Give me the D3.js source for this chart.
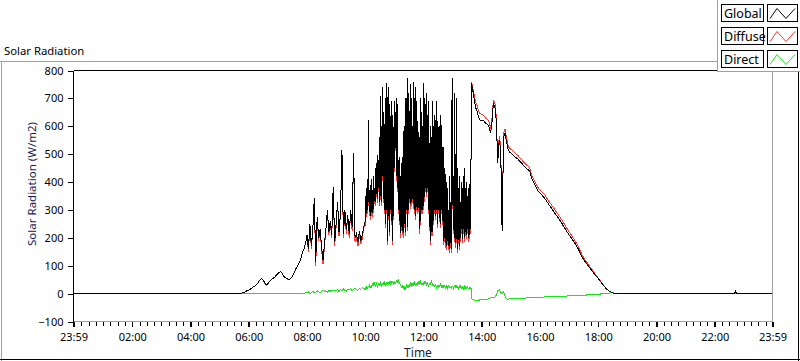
<!DOCTYPE html>
<html><head><meta charset="utf-8">
<script src="https://cdn.jsdelivr.net/npm/d3@7"></script>
<style>
body{margin:0;background:#fff}
svg{display:block}
text{font-family:"Noto Sans",sans-serif}
</style>
</head><body>
<svg id="chart" width="800" height="361"></svg>
<script>
// ---------- DATA ----------
const chartTitle = "Solar Radiation";
const yTitle = "Solar Radiation (W/m2)";
const xTitle = "Time";
const seriesNames = ["Global", "Diffuse", "Direct"];
const seriesColors = ["#000000", "#ff3434", "#19e619"];
const yTicks = [-100, 0, 100, 200, 300, 400, 500, 600, 700, 800];
const xTickLabels = ["23:59","02:00","04:00","06:00","08:00","10:00","12:00","14:00","16:00","18:00","20:00","22:00","23:59"];

// block A: every 3 min, 05:42 - 09:57
const blockAStart = "05:42", blockAStep = 3;
const globalA = [
  0,1,3,5,8,11,
  12,16,20,24,27,30,36,44,50,54,48,38,32,35,42,48,52,56,60,66,
  72,76,79,72,62,58,55,52,52,55,62,72,85,95,105,115,130,148,160,180,
  210,160,250,170,230,342,115,275,200,230,170,120,180,230,300,220,260,210,383,185,
  250,330,220,290,515,215,300,230,280,215,300,240,504,200,215,185,225,190,210,240
];
const diffuseA = [
  0,1,3,5,8,11,
  12,16,20,24,27,30,36,44,50,54,46,35,30,34,42,48,52,56,60,66,
  72,76,79,72,62,57,54,50,51,55,62,72,85,95,105,115,130,148,160,180,
  210,150,250,160,230,342,100,275,190,230,160,105,170,230,300,210,260,200,383,170,
  240,330,205,290,515,200,300,215,280,200,300,225,504,185,200,170,210,178,198,240
];
const directA = [
  0,0,0,0,0,0,
  0,0,0,0,0,0,0,0,0,0,0,0,0,0,0,0,0,0,0,0,
  0,0,0,0,0,0,0,0,0,0,0,0,0,0,0,0,0,2,0,3,
  2,6,0,4,8,3,5,10,6,4,8,12,7,10,5,11,8,13,9,12,
  10,14,8,15,11,17,12,9,16,13,18,11,15,20,14,12,18,15,22,17
];

// block B: every minute, 10:00 - 13:39
const blockBStart = "10:00", blockBStep = 1;
const globalB = [
  260,350,290,380,300,410,330,623,300,360,280,390,320,410,290,370,300,420,330,380,
  350,450,330,470,360,497,340,480,380,560,330,707,350,600,330,742,420,650,340,600,
  300,700,250,755,300,600,190,740,280,680,220,650,300,600,260,690,190,640,280,560,
  690,450,650,560,700,420,680,380,480,300,490,260,420,216,470,240,490,260,216,450,
  600,250,520,220,700,300,680,240,773,300,720,340,650,320,750,330,700,340,600,320,
  760,300,700,280,740,310,690,300,620,320,580,230,560,260,700,300,650,380,600,300,
  755,360,700,345,680,380,720,360,640,380,690,300,540,240,600,190,560,220,690,220,
  600,260,640,300,560,280,690,300,620,250,560,300,600,270,520,250,640,300,580,260,
  480,190,527,200,450,180,430,170,400,190,380,170,300,160,420,180,330,160,420,773,
  600,250,420,200,720,250,500,180,700,220,450,160,380,210,420,170,330,200,400,230,
  380,195,420,230,450,200,380,220,400,210,350,230,380,200,300,210,420,230,500,755
];
const diffuseB = [
  245,350,275,380,285,410,315,623,285,360,265,390,305,410,275,370,285,420,315,380,
  335,450,315,470,345,497,325,480,365,560,315,707,335,600,315,742,405,650,325,600,
  285,700,235,755,285,600,175,740,265,680,205,650,285,600,245,690,175,640,265,560,
  690,435,650,545,700,405,680,365,480,285,490,245,420,200,470,225,490,260,200,450,
  600,235,520,205,700,285,680,225,773,285,720,325,650,305,750,315,700,325,600,305,
  760,285,700,265,740,295,690,285,620,305,580,215,560,245,700,285,650,365,600,285,
  755,345,700,330,680,365,720,345,640,365,690,285,540,225,600,175,560,205,690,205,
  600,245,640,285,560,265,690,285,620,235,560,285,600,255,520,235,640,285,580,245,
  480,175,527,185,450,165,430,155,400,175,380,155,300,145,420,165,330,145,420,773,
  600,235,420,185,720,235,500,165,700,205,450,145,380,195,420,155,330,185,400,215,
  380,180,420,215,450,185,380,205,400,195,350,215,380,185,300,195,420,215,500,760
];
const directB = [
  16,20,18,24,22,19,27,25,22,30,26,24,28,25,30,33,28,35,41,36,
  33,28,31,38,34,24,29,35,31,30,36,40,33,27,31,36,34,32,38,44,
  40,30,35,38,34,41,37,33,39,36,42,38,34,44,40,36,41,38,35,40,
  38,42,34,40,46,43,40,45,49,44,36,40,33,30,26,22,28,24,18,22,
  26,20,14,18,24,28,32,26,20,24,30,27,33,36,30,28,34,31,36,32,
  38,34,40,36,33,38,35,30,37,42,38,34,40,36,42,38,33,30,36,34,
  38,33,40,35,42,37,30,35,38,32,26,30,36,33,32,38,45,40,36,28,
  34,30,24,28,32,30,26,20,24,28,22,27,30,26,28,33,30,25,28,22,
  30,26,22,28,25,20,24,27,22,18,24,28,26,22,25,20,22,26,20,24,
  26,22,18,24,28,22,26,30,25,20,24,22,18,22,26,21,25,20,18,22,
  24,20,17,22,26,20,18,24,21,19,22,25,20,18,22,19,16,20,18,-19
];

// block C: every 3 min, 13:42 - 18:42
const blockCStart = "13:42", blockCStep = 3;
const globalC = [
  725,690,665,650,630,622,
  620,622,615,610,606,598,575,610,683,670,620,470,551,520,224,560,577,545,520,508,
  505,500,495,490,486,482,475,470,464,458,453,448,444,438,418,405,395,385,374,366,
  360,355,349,344,336,328,320,313,305,298,290,283,275,268,260,252,243,235,226,218,
  210,203,196,188,180,172,163,152,141,131,122,115,108,101,94,87,80,73,66,60,
  54,47,40,33,27,21,15,11,8,5,3,1,0,0,0
];
const diffuseC = [
  735,705,685,672,652,645,
  642,640,634,628,624,616,592,627,692,685,636,470,565,535,224,575,590,560,533,521,
  518,513,508,503,498,494,487,482,476,470,465,460,456,450,430,417,407,397,386,378,
  372,367,361,356,348,340,332,325,317,310,302,295,287,280,272,264,255,247,238,230,
  221,214,206,198,190,181,172,160,149,138,129,121,114,106,99,91,84,76,69,62,
  56,49,41,34,28,21,15,11,8,5,3,1,0,0,0
];
const directC = [
  -22,-24,-25,-23,-24,-22,
  -22,-23,-22,-21,-20,-17,-15,-16,-14,-12,-5,10,14,4,0,6,-10,-19,-20,-19,
  -18,-18,-17,-18,-17,-17,-16,-17,-16,-16,-16,-15,-15,-15,-15,-14,-14,-14,-14,-13,
  -13,-13,-13,-12,-12,-12,-12,-11,-11,-11,-11,-10,-10,-10,-10,-9,-9,-9,-9,-8,
  -8,-8,-8,-7,-7,-7,-6,-6,-6,-5,-5,-5,-5,-4,-4,-4,-4,-3,-3,-3,
  -3,-2,-1,0,0,1,1,2,2,3,3,2,1,0,0
];

// night-time points before and after the sampled blocks
const leadTimes = ["00:00"];
const globalLead = [0], diffuseLead = [0], directLead = [0];
const tailTimes = ["18:45","22:41","22:43","22:45","23:59"];
const globalTail = [0,0,10,0,0];
const diffuseTail = [0,0,0,0,0];
const directTail = [0,0,0,0,0];

// ---------- BUILD ----------
function toDate(hhmm, dayOffset) {
  const [h, m] = hhmm.split(":").map(Number);
  return new Date(2020, 0, 1 + (dayOffset || 0), h, m);
}
const startD = toDate("23:59", -1), endD = toDate("23:59", 0);
function blockPts(start, step, vals) {
  const t0 = toDate(start).getTime();
  return vals.map((v, i) => ({t: new Date(t0 + i * step * 60000), v}));
}
function buildSeries(lead, a, b, c, tail) {
  return [
    ...leadTimes.map((t, i) => ({t: toDate(t), v: lead[i]})),
    ...blockPts(blockAStart, blockAStep, a),
    ...blockPts(blockBStart, blockBStep, b),
    ...blockPts(blockCStart, blockCStep, c),
    ...tailTimes.map((t, i) => ({t: toDate(t), v: tail[i]}))
  ];
}
const series = [
  buildSeries(globalLead, globalA, globalB, globalC, globalTail),
  buildSeries(diffuseLead, diffuseA, diffuseB, diffuseC, diffuseTail),
  buildSeries(directLead, directA, directB, directC, directTail)
];

const svg = d3.select("#chart");
const L = 73.5, R = 772.5, T = 70.5, B = 321.5;
const x = d3.scaleTime().domain([startD, endD]).range([L, R]);
const y = d3.scaleLinear().domain([-100, 800]).range([B, T]);

// outer frame
svg.append("line").attr("x1",0).attr("x2",800).attr("y1",61.5).attr("y2",61.5).attr("stroke","#a0a0a0");
svg.append("line").attr("x1",1.5).attr("x2",1.5).attr("y1",61.5).attr("y2",361).attr("stroke","#a0a0a0");
svg.append("line").attr("x1",0).attr("x2",800).attr("y1",359.5).attr("y2",359.5).attr("stroke","#000");
svg.append("line").attr("x1",798.5).attr("x2",798.5).attr("y1",61.5).attr("y2",361).attr("stroke","#000");

// title
svg.append("text").attr("x",4).attr("y",55).attr("font-size","11.3px").attr("fill","#000").text(chartTitle);

// plot area
svg.append("rect").attr("x",L).attr("y",T).attr("width",R-L).attr("height",B-T).attr("fill","#fff");

// data lines (direct, diffuse, global so global is on top)
const line = d3.line().x(d => x(d.t)).y(d => y(d.v));
const g = svg.append("g");
[2,1,0].forEach(k => {
  g.append("path").datum(series[k]).attr("d", line)
   .attr("fill","none").attr("stroke",seriesColors[k]).attr("stroke-width",1)
   .attr("shape-rendering","crispEdges");
});

// plot borders
svg.append("line").attr("x1",L).attr("x2",R).attr("y1",T).attr("y2",T).attr("stroke","#000").attr("shape-rendering","crispEdges");
svg.append("line").attr("x1",R).attr("x2",R).attr("y1",T).attr("y2",B).attr("stroke","#a0a0a0").attr("shape-rendering","crispEdges");
svg.append("line").attr("x1",L).attr("x2",R).attr("y1",B).attr("y2",B).attr("stroke","#a0a0a0").attr("shape-rendering","crispEdges");

// y axis
const yAxis = svg.append("g").attr("transform",`translate(${L},0)`)
  .call(d3.axisLeft(y).tickValues(yTicks).tickSize(6).tickPadding(4).tickFormat(d3.format("d")));
yAxis.select(".domain").remove();
yAxis.selectAll("line").attr("stroke","#000").attr("shape-rendering","crispEdges");
yAxis.selectAll("text").attr("font-size","11px").attr("fill","#000").attr("font-family","Noto Sans");
svg.append("line").attr("x1",L).attr("x2",L).attr("y1",T).attr("y2",B+4).attr("stroke","#000").attr("shape-rendering","crispEdges");

// x axis
const majorDates = xTickLabels.map((s, i) => i === 0 ? startD : (i === xTickLabels.length-1 ? endD : toDate(s)));
const minorDates = d3.timeMinute.every(15).range(startD, endD);
const xMinor = svg.append("g").attr("transform",`translate(0,${B})`)
  .call(d3.axisBottom(x).tickValues(minorDates).tickSize(4).tickFormat(""));
xMinor.select(".domain").remove();
xMinor.selectAll("line").attr("stroke","#000").attr("shape-rendering","crispEdges");
const xAxis = svg.append("g").attr("transform",`translate(0,${B})`)
  .call(d3.axisBottom(x).tickValues(majorDates).tickSize(5).tickPadding(7).tickFormat((d,i) => xTickLabels[i]));
xAxis.select(".domain").remove();
xAxis.selectAll("line").attr("stroke","#000").attr("stroke-width",1.5).attr("shape-rendering","crispEdges");
xAxis.selectAll("text").attr("font-size","11px").attr("fill","#000").attr("font-family","Noto Sans");

// axis titles
svg.append("text").attr("transform","translate(36,184) rotate(-90)").attr("text-anchor","middle")
  .attr("font-size","11.5px").attr("fill","#1a1a50").text(yTitle);
svg.append("text").attr("x",418).attr("y",357).attr("text-anchor","middle")
  .attr("font-size","12px").attr("fill","#1a1a30").text(xTitle);

// legend
const lg = svg.append("g");
lg.append("rect").attr("x",717.5).attr("y",-1).attr("width",90).attr("height",72.5).attr("fill","#fff").attr("stroke","#a0a0a0");
seriesNames.forEach((name, i) => {
  const y0 = 4.5 + i*23;
  lg.append("rect").attr("x",721.5).attr("y",y0).attr("width",42).attr("height",17).attr("fill","#fcfcfc").attr("stroke","#000");
  lg.append("text").attr("x",724).attr("y",y0+13).attr("font-size","12.5px").attr("fill","#000").text(name);
  lg.append("rect").attr("x",767.5).attr("y",y0).attr("width",30).attr("height",17).attr("fill","#fff").attr("stroke","#000");
  lg.append("path").attr("d",`M770,${y0+14} L777,${y0+4} L786,${y0+14} L795,${y0+4}`)
    .attr("fill","none").attr("stroke",seriesColors[i]).attr("stroke-width",1);
});
</script>
</body></html>
